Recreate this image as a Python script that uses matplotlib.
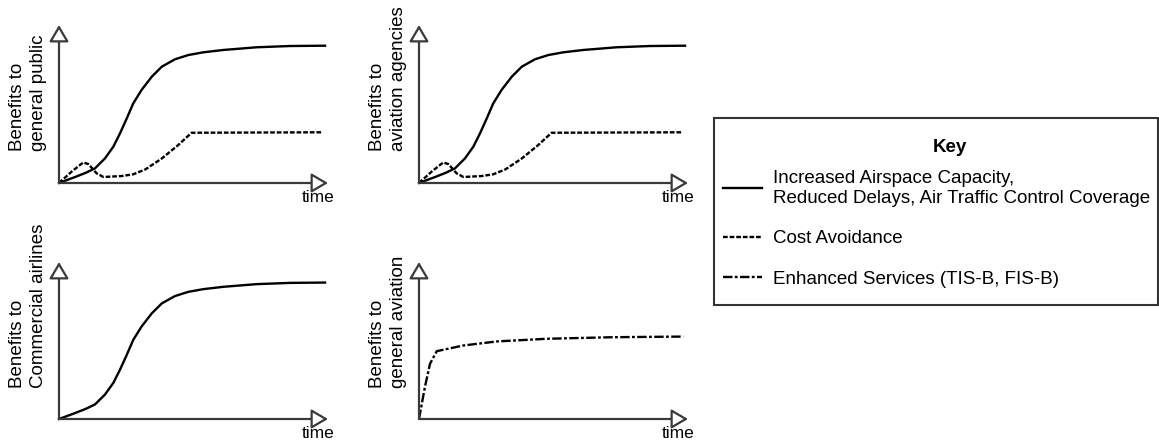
import matplotlib
matplotlib.use("Agg")
import matplotlib.pyplot as plt
from matplotlib.patches import Rectangle

plt.rcParams['font.family'] = ['Liberation Sans', 'DejaVu Sans']

# ---- data ----
t_main = [0, 0.6, 1.0, 1.34, 1.71, 2.02, 2.27, 2.52, 2.76, 3.07, 3.45, 3.82, 4.31, 4.81,
          5.36, 6.11, 7.35, 8.59, 9.89]
y_main = [0, 0.38, 0.65, 0.93, 1.56, 2.30, 3.15, 4.09, 5.04, 5.89, 6.73, 7.36, 7.83, 8.10,
          8.27, 8.42, 8.59, 8.67, 8.69]

t_cost = [0, 0.47, 0.90, 1.09, 1.40, 1.65, 2.33, 2.76, 3.2, 3.82, 4.43, 4.93, 9.81]
y_cost = [0, 0.72, 1.30, 1.20, 0.61, 0.38, 0.44, 0.55, 0.85, 1.55, 2.40, 3.18, 3.21]

t_enh = [0, 0.22, 0.41, 0.66, 1.64, 2.89, 4.75, 7.22, 9.82]
y_enh = [0, 2.04, 3.52, 4.32, 4.68, 4.94, 5.11, 5.21, 5.25]

panel_labels = ["Benefits to\ngeneral public", "Benefits to\naviation agencies",
                "Benefits to\nCommercial airlines", "Benefits to\ngeneral aviation"]
xlabel = "time"
legend_labels = ["Increased Airspace Capacity,\nReduced Delays, Air Traffic Control Coverage",
                 "Cost Avoidance",
                 "Enhanced Services (TIS-B, FIS-B)"]
legend_title = "Key"

# ---- styling ----
W, H = 1159, 440
fig = plt.figure(figsize=(W / 100, H / 100), dpi=100)
axis_col = '#3a3a3a'
curve_lw = 1.7
cost_dash = (2.0, 0.8)
enh_dash = (4.0, 1.0, 1.2, 1.0)
fs = 13.5

positions = [
    [59 / W, (H - 183) / H, 269 / W, 158 / H],
    [419 / W, (H - 183) / H, 269 / W, 158 / H],
    [59 / W, (H - 419) / H, 269 / W, 157 / H],
    [419 / W, (H - 419) / H, 269 / W, 157 / H],
]

axes = []
for pos, lab in zip(positions, panel_labels):
    ax = fig.add_axes(pos)
    ax.set_xlim(0, 10)
    ax.set_ylim(0, 10)
    ax.axis('off')
    arrow = dict(arrowstyle='-|>,head_length=0.85,head_width=0.5', fc='white',
                 ec=axis_col, lw=1.6, shrinkA=0, shrinkB=0, mutation_scale=12)
    ax.annotate('', xy=(1, 0), xytext=(0, 0), xycoords='axes fraction',
                textcoords='axes fraction', arrowprops=arrow, annotation_clip=False)
    ax.annotate('', xy=(0, 1), xytext=(0, 0), xycoords='axes fraction',
                textcoords='axes fraction', arrowprops=arrow, annotation_clip=False)
    ax.text(1.026, -0.12, xlabel, transform=ax.transAxes, ha='right', va='baseline',
            fontsize=12.5)
    ax.text(-0.115, 0.2, lab, transform=ax.transAxes, rotation=90, ha='center',
            va='bottom', multialignment='left', fontsize=fs, linespacing=1.3)
    axes.append(ax)

ax_tl, ax_tr, ax_bl, ax_br = axes

h_main, = ax_tl.plot(t_main, y_main, color='black', lw=curve_lw, clip_on=False)
h_cost, = ax_tl.plot(t_cost, y_cost, color='black', lw=curve_lw, dashes=cost_dash, clip_on=False)
ax_tr.plot(t_main, y_main, color='black', lw=curve_lw, clip_on=False)
ax_tr.plot(t_cost, y_cost, color='black', lw=curve_lw, dashes=cost_dash, clip_on=False)
ax_bl.plot(t_main, y_main, color='black', lw=curve_lw, clip_on=False)
h_enh, = ax_br.plot(t_enh, y_enh, color='black', lw=curve_lw, dashes=enh_dash, clip_on=False)

# key box
fig.patches.append(Rectangle((714 / W, (H - 305) / H), 444 / W, 187 / H,
                             transform=fig.transFigure, fill=False,
                             edgecolor='#333333', lw=1.5))
fig.text(950 / W, 1 - 147 / H, legend_title, ha='center', va='center',
         fontsize=fs, fontweight='bold')
leg = fig.legend([h_main, h_cost, h_enh], legend_labels,
                 loc='upper left', bbox_to_anchor=(723 / W, 1 - 170 / H),
                 borderaxespad=0, borderpad=0, frameon=False, fontsize=fs,
                 handlelength=2.1, handletextpad=0.55, labelspacing=1.25)

fig.savefig('out.png', dpi=100)
